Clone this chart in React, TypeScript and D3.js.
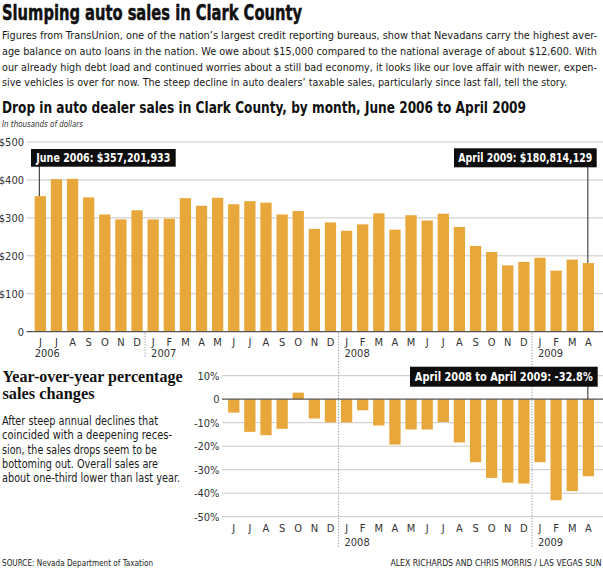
import React from 'react';
import * as d3 from 'd3';

// Monthly taxable sales of Clark County auto dealers, Jun 2006 - Apr 2009 (axis units, $ millions)
const monthInitials = [
  'J', 'J', 'A', 'S', 'O', 'N', 'D',
  'J', 'F', 'M', 'A', 'M', 'J', 'J', 'A', 'S', 'O', 'N', 'D',
  'J', 'F', 'M', 'A', 'M', 'J', 'J', 'A', 'S', 'O', 'N', 'D',
  'J', 'F', 'M', 'A',
];
const sales = [
  357.201933, 402, 403, 354, 309, 296, 320,
  296, 298, 352, 332, 353, 336, 344, 340, 309, 318, 271, 288,
  266, 283, 312, 269, 307, 293, 311, 276, 226, 210, 175, 184,
  195, 161, 190, 180.814129,
];
// year label -> index of its first month
const yearStarts: [string, number][] = [['2006', 0], ['2007', 7], ['2008', 19], ['2009', 31]];

// Year-over-year change (%), Jun 2007 - Apr 2009
const yoyStartIndex = 12;
const yoyChange = [
  -5.7, -13.9, -15.3, -12.6, 2.8, -8.2, -9.9,
  -9.9, -4.7, -11.2, -19.3, -12.9, -12.9, -9.7, -18.4, -26.8, -33.5, -35.5, -35.9,
  -26.8, -43.0, -39.1, -32.8,
];

const salesTicks = [0, 100, 200, 300, 400, 500];
const yoyTicks = [10, 0, -10, -20, -30, -40, -50];

const introLines = [
  'Figures from TransUnion, one of the nation\u2019s largest credit reporting bureaus, show that Nevadans carry the highest aver-',
  'age balance on auto loans in the nation. We owe about $15,000 compared to the national average of about $12,600. With',
  'our already high debt load and continued worries about a still bad economy, it looks like our love affair with newer, expen-',
  'sive vehicles is over for now. The steep decline in auto dealers\u2019 taxable sales, particularly since last fall, tell the story.',
];
const introWidths = [595, 595, 595, 565];

const yoyHeading = ['Year-over-year percentage', 'sales changes'];
const yoyHeadingWidths = [180, 92];
const yoyNotes = [
  'After steep annual declines that',
  'coincided with a deepening reces-',
  'sion, the sales drops seem to be',
  'bottoming out. Overall sales are',
  'about one-third lower than last year.',
];
const yoyNoteWidths = [156, 170, 155, 156, 178];

const BAR = '#e8a73a';
const GRID = '#c8c8c8';
const SANS = "'Liberation Sans Narrow', 'DejaVu Sans Condensed', 'Roboto', sans-serif";
const SERIF = "'Liberation Serif', 'DejaVu Serif', serif";

export default function App() {
  const W = 603;
  const H = 569;

  const x = d3.scaleBand<number>()
    .domain(d3.range(sales.length))
    .range([34.7, 594])
    .paddingInner(0.3)
    .paddingOuter(0);
  const bw = x.bandwidth();
  const gap = x.step() - bw;

  const ySales = d3.scaleLinear().domain([0, 500]).range([331.7, 142]);
  const yYoy = d3.scaleLinear().domain([-50, 10]).range([516.7, 375.7]);

  const dividerX = (i: number) => (x(i) as number) - gap / 2;
  const cx = (i: number) => (x(i) as number) + bw / 2;

  const last = sales.length - 1;
  const fmtMoney = (v: number) => '$' + d3.format(',')(Math.round(v * 1e6));

  return (
    <svg width={W} height={H} style={{ position: 'absolute', left: 0, top: 0, background: '#fff' }}
      fontFamily={SANS}>
      <rect width={W} height={H} fill="#fff" />

      {/* headline and intro */}
      <text x={2} y={19.5} fontSize={22} fontWeight="bold" fill="#111" textLength={300}
        lengthAdjust="spacingAndGlyphs" stroke="#111" strokeWidth={0.5}>Slumping auto sales in Clark County</text>
      {introLines.map((t, i) => (
        <text key={i} x={2} y={39 + i * 15.8} fontSize={11.2} fill="#1a1a1a"
          textLength={introWidths[i]} lengthAdjust="spacingAndGlyphs">{t}</text>
      ))}

      <text x={2} y={112.5} fontSize={15} fontWeight="bold" fill="#111" textLength={524}
        lengthAdjust="spacingAndGlyphs">Drop in auto dealer sales in Clark County, by month, June 2006 to April 2009</text>
      <text x={2} y={126.5} fontSize={9} fontStyle="italic" fill="#333" textLength={81}
        lengthAdjust="spacingAndGlyphs">In thousands of dollars</text>

      {/* monthly sales chart */}
      {salesTicks.map(t => (
        <g key={t}>
          {t > 0 && <line x1={26.5} x2={W} y1={ySales(t)} y2={ySales(t)} stroke={GRID} strokeWidth={1} />}
          <text x={24} y={ySales(t) + 4} fontSize={11} fill="#333" textAnchor="end">
            {t === 0 ? '0' : `$${t}`}
          </text>
        </g>
      ))}
      {sales.map((v, i) => (
        <rect key={i} x={x(i)} y={ySales(v)} width={bw} height={ySales(0) - ySales(v)} fill={BAR} />
      ))}
      <line x1={26.5} x2={W} y1={ySales(0)} y2={ySales(0)} stroke="#555" strokeWidth={1.2} />
      {monthInitials.map((m, i) => (
        <text key={i} x={cx(i)} y={345.5} fontSize={11} fill="#333" textAnchor="middle">{m}</text>
      ))}
      {yearStarts.map(([yr, i]) => (
        <text key={yr} x={i === 0 ? (x(i) as number) : dividerX(i) + 6} y={357} fontSize={11} fill="#333">{yr}</text>
      ))}
      {yearStarts.slice(1).map(([yr, i]) => (
        <line key={yr} x1={dividerX(i)} x2={dividerX(i)} y1={333} y2={i >= yoyStartIndex ? 547 : 358}
          stroke="#777" strokeWidth={0.8} strokeDasharray="1.2,1.6" />
      ))}

      {/* callouts on first and last month */}
      <line x1={cx(0) - 1} x2={cx(0) - 1} y1={166} y2={ySales(sales[0])} stroke="#222" strokeWidth={1} />
      <rect x={31} y={149} width={144.7} height={17.7} fill="#0d0d0d" />
      <text x={103.3} y={162.3} fontSize={12.5} fontWeight="bold" fill="#fff" textAnchor="middle"
        textLength={134} lengthAdjust="spacingAndGlyphs">{`June 2006: ${fmtMoney(sales[0])}`}</text>

      <line x1={cx(last) - 0.5} x2={cx(last) - 0.5} y1={166} y2={ySales(sales[last])} stroke="#222" strokeWidth={1} />
      <rect x={454} y={148.3} width={142.7} height={19} fill="#0d0d0d" />
      <text x={525.3} y={162.3} fontSize={12.5} fontWeight="bold" fill="#fff" textAnchor="middle"
        textLength={134} lengthAdjust="spacingAndGlyphs">{`April 2009: ${fmtMoney(sales[last])}`}</text>

      {/* year-over-year section */}
      {yoyHeading.map((t, i) => (
        <text key={i} x={2.5} y={381.7 + i * 17.6} fontFamily={SERIF} fontSize={16} fontWeight="bold" fill="#111"
          textLength={yoyHeadingWidths[i]} lengthAdjust="spacingAndGlyphs">{t}</text>
      ))}
      {yoyNotes.map((t, i) => (
        <text key={i} x={2} y={425 + i * 14.3} fontSize={12.2} fill="#1a1a1a"
          textLength={yoyNoteWidths[i]} lengthAdjust="spacingAndGlyphs">{t}</text>
      ))}

      {yoyTicks.map(t => (
        <g key={t}>
          {t !== 0 && <line x1={222} x2={W} y1={yYoy(t)} y2={yYoy(t)} stroke={GRID} strokeWidth={1} />}
          <text x={219.5} y={yYoy(t) + 4} fontSize={11} fill="#333" textAnchor="end">
            {t === 0 ? '0' : `${t}%`}
          </text>
        </g>
      ))}
      {yoyChange.map((v, k) => {
        const i = yoyStartIndex + k;
        return (
          <rect key={k} x={x(i)} y={yYoy(Math.max(0, v))} width={bw}
            height={Math.abs(yYoy(v) - yYoy(0))} fill={BAR} />
        );
      })}
      <line x1={222} x2={W} y1={yYoy(0)} y2={yYoy(0)} stroke="#555" strokeWidth={1.2} />
      {monthInitials.slice(yoyStartIndex).map((m, k) => (
        <text key={k} x={cx(yoyStartIndex + k)} y={532} fontSize={11} fill="#333" textAnchor="middle">{m}</text>
      ))}
      {yearStarts.filter(([, i]) => i > yoyStartIndex).map(([yr, i]) => (
        <text key={yr} x={dividerX(i) + 6} y={545.5} fontSize={11} fill="#333">{yr}</text>
      ))}

      <line x1={cx(last) - 0.5} x2={cx(last) - 0.5} y1={386} y2={yYoy(0)} stroke="#222" strokeWidth={1} />
      <rect x={410} y={366.7} width={187.7} height={20} fill="#0d0d0d" />
      <text x={503.8} y={381.3} fontSize={13} fontWeight="bold" fill="#fff" textAnchor="middle"
        textLength={178} lengthAdjust="spacingAndGlyphs">{`April 2008 to April 2009: ${yoyChange[yoyChange.length - 1]}%`}</text>

      {/* credits */}
      <text x={2} y={565.5} fontSize={9.5} fill="#222" textLength={151}
        lengthAdjust="spacingAndGlyphs">SOURCE: Nevada Department of Taxation</text>
      <text x={601.5} y={565.5} fontSize={9.5} fill="#222" textAnchor="end" textLength={211}
        lengthAdjust="spacingAndGlyphs">ALEX RICHARDS AND CHRIS MORRIS / LAS VEGAS SUN</text>
    </svg>
  );
}
